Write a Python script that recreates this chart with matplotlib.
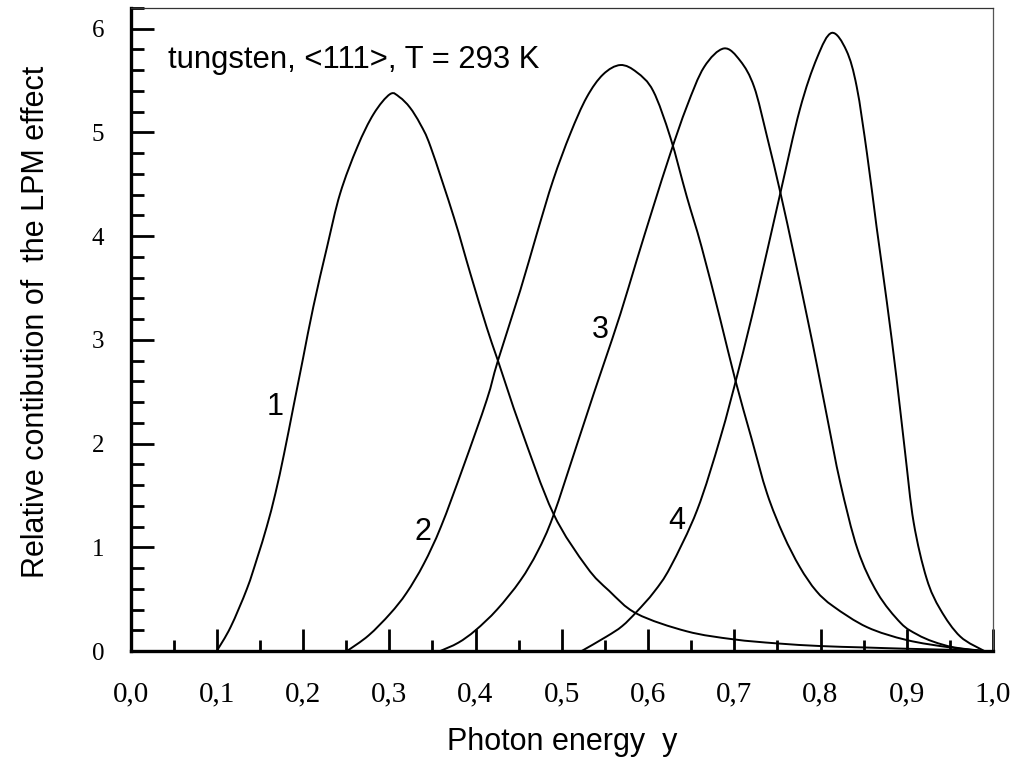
import matplotlib
matplotlib.use("Agg")
import matplotlib.pyplot as plt
import numpy as np
from matplotlib.path import Path
from matplotlib.patches import PathPatch
from matplotlib.ticker import MultipleLocator, FuncFormatter

# curve data (photon energy y, relative contribution)
x1 = [0.100, 0.116, 0.135, 0.147, 0.158, 0.168, 0.178, 0.189, 0.200, 0.212, 0.228, 0.243,
      0.263, 0.282, 0.301, 0.312, 0.324, 0.336, 0.348, 0.375, 0.394, 0.413, 0.426, 0.452,
      0.490, 0.529, 0.555, 0.587, 0.645, 0.699, 0.749, 0.800, 0.849, 0.900, 0.950, 0.990]
y1 = [0.00, 0.23, 0.60, 0.90, 1.20, 1.52, 1.90, 2.36, 2.82, 3.32, 3.90, 4.41,
      4.86, 5.18, 5.37, 5.34, 5.24, 5.08, 4.86, 4.18, 3.64, 3.12, 2.80, 2.16,
      1.33, 0.81, 0.58, 0.36, 0.19, 0.113, 0.074, 0.048, 0.035, 0.022, 0.012, 0.00]

x2 = [0.251, 0.276, 0.301, 0.320, 0.340, 0.360, 0.386, 0.413, 0.426, 0.452, 0.471, 0.490,
      0.510, 0.529, 0.548, 0.568, 0.587, 0.606, 0.626, 0.645, 0.662, 0.684, 0.701, 0.720,
      0.738, 0.757, 0.776, 0.795, 0.815, 0.854, 0.900, 0.950, 0.990]
y2 = [0.00, 0.15, 0.36, 0.56, 0.84, 1.20, 1.78, 2.42, 2.80, 3.48, 4.02, 4.54,
      4.99, 5.34, 5.56, 5.65, 5.58, 5.40, 4.95, 4.38, 3.90, 3.19, 2.62, 2.05,
      1.52, 1.12, 0.81, 0.58, 0.43, 0.23, 0.106, 0.035, 0.00]

x3 = [0.359, 0.380, 0.400, 0.425, 0.452, 0.472, 0.490, 0.518, 0.537, 0.550, 0.568, 0.587,
      0.606, 0.626, 0.645, 0.665, 0.688, 0.707, 0.723, 0.738, 0.754, 0.769, 0.785, 0.796,
      0.808, 0.823, 0.843, 0.866, 0.893, 0.912, 0.931, 0.955, 0.990]
y3 = [0.00, 0.08, 0.20, 0.40, 0.68, 0.96, 1.30, 2.00, 2.48, 2.80, 3.25, 3.77,
      4.28, 4.80, 5.25, 5.63, 5.81, 5.69, 5.44, 4.96, 4.40, 3.83, 3.20, 2.75,
      2.24, 1.62, 0.98, 0.56, 0.27, 0.16, 0.09, 0.035, 0.00]

x4 = [0.523, 0.552, 0.570, 0.587, 0.607, 0.626, 0.657, 0.684, 0.705, 0.726, 0.753, 0.776,
      0.796, 0.813, 0.830, 0.842, 0.854, 0.865, 0.877, 0.888, 0.898, 0.908, 0.923, 0.939,
      0.962, 0.990]
y4 = [0.00, 0.14, 0.24, 0.38, 0.57, 0.81, 1.36, 2.06, 2.71, 3.42, 4.40, 5.22,
      5.72, 5.96, 5.79, 5.44, 4.79, 4.09, 3.36, 2.64, 1.92, 1.24, 0.70, 0.40,
      0.14, 0.00]

curve_labels = ["1", "2", "3", "4"]
label_pos = [(0.168, 2.35), (0.339, 1.15), (0.545, 3.10), (0.633, 1.25)]


def smooth_path(xs, ys):
    # cubic bezier segments through the read points (catmull-rom tangents)
    p = np.column_stack([xs, ys])
    ext = np.vstack([p[0], p, p[-1]])
    verts = [p[0]]
    codes = [Path.MOVETO]
    for i in range(1, len(ext) - 2):
        c1 = ext[i] + (ext[i + 1] - ext[i - 1]) / 6
        c2 = ext[i + 1] - (ext[i + 2] - ext[i]) / 6
        verts += [c1, c2, ext[i + 1]]
        codes += [Path.CURVE4] * 3
    return Path(verts, codes)


fig = plt.figure(figsize=(10.14, 7.61), dpi=100)
ax = fig.add_axes([0.1287, 0.1445, 0.8506, 0.845])

for xs, ys in [(x1, y1), (x2, y2), (x3, y3), (x4, y4)]:
    ax.add_patch(PathPatch(smooth_path(xs, ys), fill=False, edgecolor="black", lw=1.4))

for lab, (lx, ly) in zip(curve_labels, label_pos):
    ax.text(lx, ly, lab, fontsize=22, family="Liberation Sans", ha="center", va="center")

ax.text(0.043, 5.70, "tungsten, <111>, T = 293 K", fontsize=22.3,
        family="Liberation Sans", ha="left", va="center")

ax.set_xlim(0, 1)
ax.set_ylim(0, 6.2)

ax.xaxis.set_major_locator(MultipleLocator(0.1))
ax.xaxis.set_minor_locator(MultipleLocator(0.05))
ax.yaxis.set_major_locator(MultipleLocator(1))
ax.yaxis.set_minor_locator(MultipleLocator(0.2))
ax.xaxis.set_major_formatter(FuncFormatter(lambda v, p: f"{v:.1f}".replace(".", ",")))
ax.yaxis.set_major_formatter(FuncFormatter(lambda v, p: f"{v:.0f}"))

ax.tick_params(axis="both", which="both", direction="in", width=2, color="black",
               top=False, right=False)
ax.tick_params(axis="x", which="major", length=16, pad=22, labelsize=21,
               labelfontfamily="Liberation Serif")
ax.tick_params(axis="x", which="minor", length=8)
ax.tick_params(axis="y", which="major", length=16.5, pad=19, labelsize=18,
               labelfontfamily="Liberation Serif")
ax.tick_params(axis="y", which="minor", length=9)

ax.spines["left"].set_linewidth(2.4)
ax.spines["bottom"].set_linewidth(2.4)
ax.spines["top"].set_linewidth(0.9)
ax.spines["right"].set_linewidth(0.9)
ax.spines["top"].set_color("#333333")
ax.spines["right"].set_color("#555555")

ax.set_xlabel("Photon energy  y", fontsize=22, family="Liberation Sans", labelpad=14)
ax.set_ylabel("Relative contibution of  the LPM effect", fontsize=22,
              family="Liberation Sans", labelpad=29)
ax.yaxis.label.set_y(0.512)

fig.savefig("out.png", dpi=100)
